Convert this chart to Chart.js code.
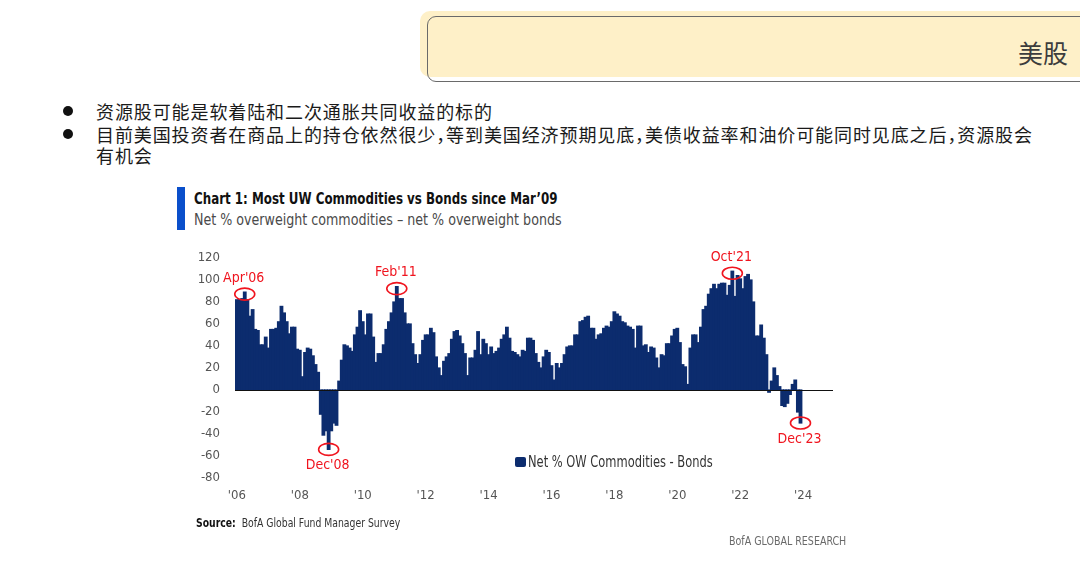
<!DOCTYPE html>
<html><head><meta charset="utf-8">
<script src="https://cdn.jsdelivr.net/npm/chart.js@4.4.1/dist/chart.umd.min.js"></script>
<style>
*{box-sizing:border-box}
html,body{margin:0;padding:0;background:#fff}
body{width:1080px;height:566px;position:relative;overflow:hidden}
.a{position:absolute;white-space:nowrap}
.cn{font-family:"Noto Sans CJK SC","Noto Sans",sans-serif;color:#1a1a1a;font-feature-settings:"halt"}
.en{font-family:"DejaVu Sans Condensed","DejaVu Sans",sans-serif;transform-origin:0 50%}
#c{position:absolute;left:0;top:0}
</style></head><body>
<div class="a" style="left:420px;top:11px;width:700px;height:66px;background:#FEF0C8;border-radius:10px"></div>
<div class="a" style="left:427px;top:16px;width:700px;height:66px;border:1.5px solid #6a6a6a;border-radius:9px"></div>
<div class="a cn" style="left:1018px;top:36px;font-size:25px;line-height:32px;color:#3c3c3c">美股</div>

<div class="a" style="left:63px;top:106px;width:10px;height:10px;border-radius:50%;background:#111"></div>
<div class="a" style="left:63px;top:129px;width:10px;height:10px;border-radius:50%;background:#111"></div>
<div class="a cn" style="left:96px;top:100px;font-size:18px;line-height:22px;letter-spacing:0.9px">资源股可能是软着陆和二次通胀共同收益的标的</div>
<div class="a cn" style="left:96px;top:123px;font-size:18px;line-height:22px;letter-spacing:0.9px">目前美国投资者在商品上的持仓依然很少，等到美国经济预期见底，美债收益率和油价可能同时见底之后，资源股会</div>
<div class="a cn" style="left:96px;top:144px;font-size:18px;line-height:22px;letter-spacing:0.9px">有机会</div>

<div class="a" style="left:177px;top:187px;width:8px;height:43px;background:#0A4FCB"></div>
<div class="a en" style="left:194px;top:189px;font-size:16.5px;line-height:20px;font-weight:bold;color:#111;transform:scaleX(0.8)">Chart 1: Most UW Commodities vs Bonds since Mar’09</div>
<div class="a en" style="left:194px;top:210px;font-size:16px;line-height:20px;color:#4a4a4a;transform:scaleX(0.88)">Net % overweight commodities – net % overweight bonds</div>

<canvas id="c" width="1080" height="566"></canvas>

<div class="a" style="left:515px;top:457px;width:11px;height:10px;border-radius:2px;background:#0C2C6E"></div>
<div class="a en" style="left:528px;top:452px;font-size:15px;line-height:20px;color:#333;transform:scaleX(0.85)">Net % OW Commodities - Bonds</div>
<div class="a en" style="left:196px;top:516px;font-size:12px;line-height:14px;color:#333;transform:scaleX(0.86)"><b style="color:#111">Source:</b>&nbsp; BofA Global Fund Manager Survey</div>
<div class="a en" style="left:729px;top:534px;font-size:12px;line-height:14px;color:#6a6a6a;transform:scaleX(0.88)">BofA GLOBAL RESEARCH</div>

<script>
// Net % OW commodities minus net % OW bonds, monthly, Jan..Dec of each year
const v2006 = [82,82,83,89,82,67,73,55,54,41,41,48];
const v2007 = [38,55,55,56,62,76,70,62,51,57,57,37];
const v2008 = [36,12,34,38,37,31,23,16,-22,-41,-37,-54];
const v2009 = [-37,-30,-32,8,27,41,40,38,35,50,57,72];
const v2010 = [62,50,69,69,48,25,33,33,41,55,62,70];
const v2011 = [80,94,83,83,70,60,60,42,32,24,32,45];
const v2012 = [50,50,56,52,30,20,13,26,30,33,46,53];
const v2013 = [54,49,42,33,13,29,29,36,53,32,46,42];
const v2014 = [32,39,33,35,38,46,50,57,47,35,34,32];
const v2015 = [30,36,35,47,47,45,33,25,20,30,36,34];
const v2016 = [22,9,24,20,24,32,39,40,40,50,50,62];
const v2017 = [63,66,67,56,56,46,50,51,56,58,57,62];
const v2018 = [71,69,67,62,61,58,57,55,38,58,58,40];
const v2019 = [41,34,39,38,29,20,32,31,42,42,49,55];
const v2020 = [56,43,23,21,5,38,50,50,43,57,73,76];
const v2021 = [87,92,96,92,96,97,97,86,95,108,85,104];
const v2022 = [101,92,103,105,100,80,49,49,59,47,32,-2];
const v2023 = [8,20,13,3,-14,-15,-12,-4,5,9,-20,-30];
const years = [2006,2007,2008,2009,2010,2011,2012,2013,2014,2015,2016,2017,2018,2019,2020,2021,2022,2023];
const yearly = [v2006,v2007,v2008,v2009,v2010,v2011,v2012,v2013,v2014,v2015,v2016,v2017,v2018,v2019,v2020,v2021,v2022,v2023];
const xTickYears = [2006,2008,2010,2012,2014,2016,2018,2020,2022,2024];
const xTickLabels = ["'06","'08","'10","'12","'14","'16","'18","'20","'22","'24"];
const yTicks = [-80,-60,-40,-20,0,20,40,60,80,100,120];
const callouts = [
  {label:"Apr'06", year:2006, month:3, side:-1},
  {label:"Dec'08", year:2008, month:11, side:1},
  {label:"Feb'11", year:2011, month:1, side:-1},
  {label:"Oct'21", year:2021, month:9, side:-1},
  {label:"Dec'23", year:2023, month:11, side:1}
];

const points = [];
yearly.forEach((arr, yi) => arr.forEach((v, m) => points.push({x: years[yi] + m/12, y: v})));

const FONT = '"DejaVu Sans Condensed","DejaVu Sans",sans-serif';

const overlay = {
  id:'overlay',
  afterDatasetsDraw(chart){
    const {ctx, chartArea, scales:{x,y}} = chart;
    ctx.save();
    const y0 = Math.round(y.getPixelForValue(0)) + 0.5;
    ctx.strokeStyle = '#111'; ctx.lineWidth = 1.2;
    ctx.beginPath(); ctx.moveTo(chartArea.left, y0); ctx.lineTo(chartArea.right, y0); ctx.stroke();
    ctx.strokeStyle = '#F0141E'; ctx.fillStyle = '#F0141E'; ctx.lineWidth = 1.6;
    ctx.font = '14px ' + FONT; ctx.textAlign = 'center'; ctx.textBaseline = 'middle';
    callouts.forEach(c => {
      const val = yearly[years.indexOf(c.year)][c.month];
      const px = x.getPixelForValue(c.year + c.month/12);
      const py = y.getPixelForValue(val) + (c.side < 0 ? 2 : 0);
      ctx.beginPath(); ctx.ellipse(px, py, 10, 6, 0, 0, Math.PI*2); ctx.stroke();
      ctx.fillText(c.label, px - 1, py + c.side*16);
    });
    ctx.restore();
  }
};

new Chart(document.getElementById('c'), {
  type:'bar',
  data:{ datasets:[{ label:'Net % OW Commodities - Bonds', data:points, backgroundColor:'#0C2C6E', borderWidth:0, inflateAmount:0.6, barPercentage:1, categoryPercentage:1 }]},
  options:{
    responsive:false, animation:false, devicePixelRatio:1,
    layout:{ padding:{ left:150, right:247, top:258, bottom:58 } },
    plugins:{ legend:{display:false}, tooltip:{enabled:false} },
    scales:{
      x:{ type:'linear', min:2005.94, max:2024.95, offset:false,
          grid:{display:false, drawTicks:false}, border:{display:false},
          afterBuildTicks:(s)=>{ s.ticks = xTickYears.map(v=>({value:v})); },
          afterFit:(s)=>{ s.height = 30; },
          ticks:{ padding:10, color:'#555', font:{family:FONT, size:13}, maxRotation:0, autoSkip:false,
                  callback:(v)=> xTickLabels[xTickYears.indexOf(v)] } },
      y:{ min:-80, max:120,
          grid:{display:false, drawTicks:false}, border:{display:false},
          afterBuildTicks:(s)=>{ s.ticks = yTicks.map(v=>({value:v})); },
          afterFit:(s)=>{ s.width = 85; },
          ticks:{ padding:15, color:'#555', font:{family:FONT, size:13} } }
    }
  },
  plugins:[overlay]
});
</script>
</body></html>
